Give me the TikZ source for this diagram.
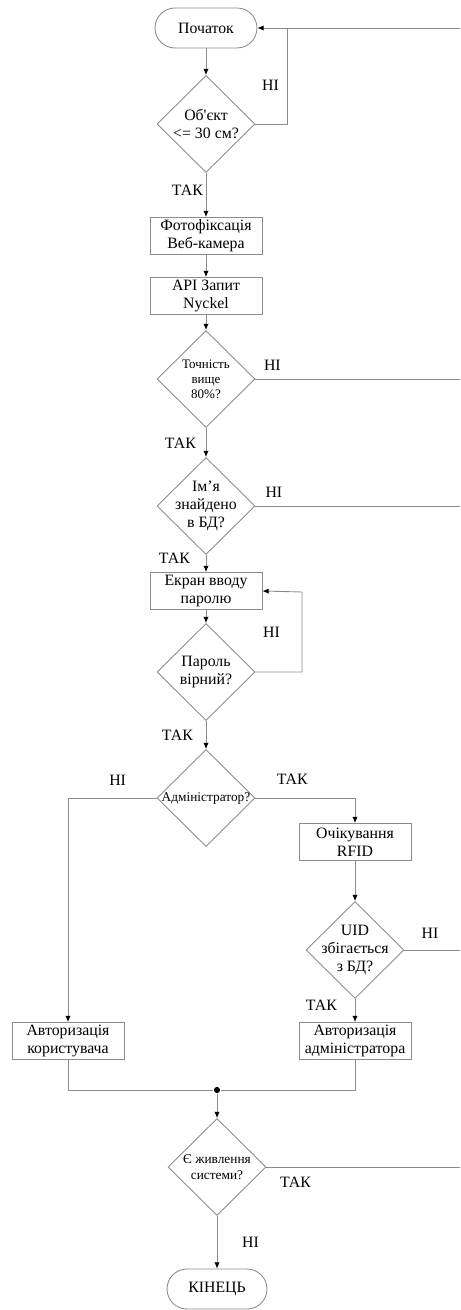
\documentclass[tikz,border=0pt]{standalone}
\usepackage{fontspec}
\setmainfont{Liberation Serif}
\usetikzlibrary{shapes.geometric,arrows.meta,positioning}

\begin{document}
\begin{tikzpicture}[x=0.02cm, y=-0.02cm, line width=0.5pt,
			font=\fontsize{9}{10.3}\selectfont,
			term_style/.style={rectangle,rounded corners=0.4cm,draw=black!45,minimum width=2.04cm,minimum height=0.8cm},
			proc_style/.style={rectangle,draw=black!45,minimum width=2.24cm,minimum height=0.74cm,inner sep=1pt,align=center},
			dec_style/.style={diamond,draw=black!45,minimum width=1.96cm,minimum height=1.94cm,inner sep=0pt},
			small_text/.style={font=\fontsize{7.4}{8.6}\selectfont},
			dot_style/.style={circle,fill=black,inner sep=0pt,minimum size=3.5pt},
			edge_style/.style={draw=black!45,-{Latex[length=3.5pt,width=3pt,color=black]}},
			line_style/.style={draw=black!45},
			lbl_style/.style={inner sep=1pt},
			every label/.style={align=center}]
			\useasboundingbox (0,0) rectangle (460,1310);
			% main column
			\node[term_style] (start) at (206,28) {Початок};
			\node[dec_style,label={center:Об\textquotesingle єкт\\<= 30 см?}] (q1) at (206,124) {};
			\node[proc_style] (photo) at (206,236) {Фотофіксація\\Веб-камера};
			\node[proc_style] (api) at (206,296) {API Запит\\Nyckel};
			\node[dec_style,label={[small_text]center:Точність\\вище\\80\%?}] (q2) at (206,379) {};
			\node[dec_style,label={center:Ім’я\\знайдено\\в БД?}] (q3) at (206,506) {};
			\node[proc_style] (pwd) at (206,591) {Екран вводу\\паролю};
			\node[dec_style,label={center:Пароль\\вірний?}] (q4) at (206,672) {};
			\node[dec_style,label={[font=\fontsize{7.6}{8.8}\selectfont]center:Адміністратор?}] (admin) at (206,798) {};
			% branches
			\node[proc_style] (rfid) at (355,842) {Очікування\\RFID};
			\node[dec_style,label={center:UID\\збігається\\з БД?}] (q5) at (355,950) {};
			\node[proc_style] (user) at (68,1041) {Авторизація\\користувача};
			\node[proc_style] (admauth) at (355,1041) {Авторизація\\адміністратора};
			\node[dot_style] (join) at (217,1090) {};
			\node[dec_style,label={[font=\fontsize{7.6}{8.8}\selectfont]center:Є живлення\\системи?}] (q6) at (217,1167) {};
			\node[term_style,minimum width=2.0cm] (stop) at (217,1289) {КІНЕЦЬ};
			% loose ends
			\coordinate (loop1) at (287,28);
			\coordinate (loop2) at (302,592);
			\coordinate (r0) at (460,28);
			\coordinate (r2) at (460,379);
			\coordinate (r3) at (460,506);
			\coordinate (r5) at (460,950);
			\coordinate (r6) at (460,1167);
			% connectors
			\draw[edge_style] (start) -- (q1);
			\draw[edge_style] (q1.east) -| node[lbl_style,pos=0.7,left=0.12cm]{НІ} (loop1) -- (start.east);
			\draw[line_style] (r0) -- (loop1);
			\draw[edge_style] (q1) -- node[lbl_style,pos=0.4,left=0.02cm]{ТАК} (photo);
			\draw[edge_style] (photo) -- (api);
			\draw[edge_style] (api) -- (q2);
			\draw[line_style] (q2.east) -- node[lbl_style,pos=0.083,above=0.12cm]{НІ} (r2);
			\draw[edge_style] (q2) -- node[lbl_style,pos=0.52,left=0.16cm]{ТАК} (q3);
			\draw[line_style] (q3.east) -- node[lbl_style,pos=0.09,above=0.12cm]{НІ} (r3);
			\draw[edge_style] (q3) -- node[lbl_style,pos=0.2,left=0.28cm]{ТАК} (pwd);
			\draw[edge_style] (pwd) -- (q4);
			\draw[edge_style] (q4.east) -| node[lbl_style,pos=0.75,left=0.4cm]{НІ} (loop2) -- (pwd.east);
			\draw[edge_style] (q4) -- node[lbl_style,pos=0.5,left=0.22cm]{ТАК} (admin);
			\draw[edge_style] (admin.west) -| node[lbl_style,pos=0.22,above=0.2cm]{НІ} (user);
			\draw[edge_style] (admin.east) -| node[lbl_style,pos=0.185,above=0.22cm]{ТАК} (rfid);
			\draw[edge_style] (rfid) -- (q5);
			\draw[line_style] (q5.east) -- node[lbl_style,pos=0.46,above=0.18cm]{НІ} (r5);
			\draw[edge_style] (q5) -- node[lbl_style,pos=0.28,left=0.32cm]{ТАК} (admauth);
			\draw[line_style] (user.south) |- (join);
			\draw[line_style] (admauth.south) |- (join);
			\draw[edge_style] (join) -- (q6);
			\draw[line_style] (q6.east) -- node[lbl_style,pos=0.15,below=0.16cm]{ТАК} (r6);
			\draw[edge_style] (q6) -- node[lbl_style,pos=0.5,right=0.46cm]{НІ} (stop);
\end{tikzpicture}
\end{document}
